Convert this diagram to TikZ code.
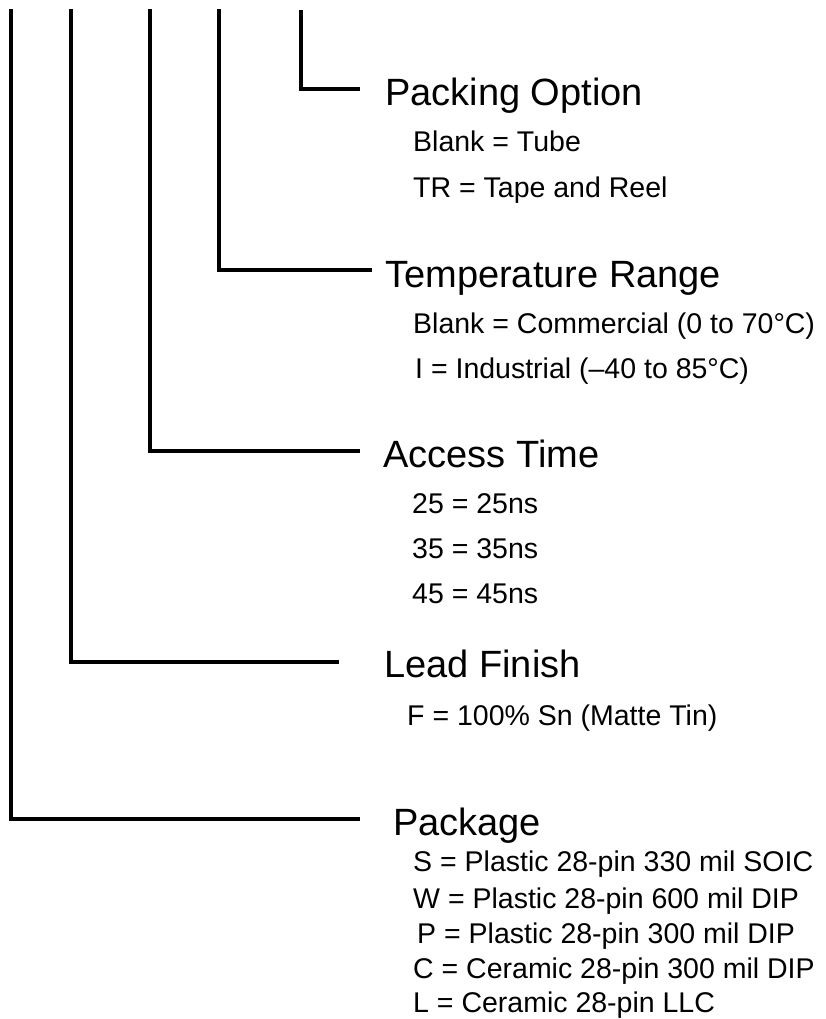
\documentclass[tikz,border=0pt]{standalone}
\usepackage{fontspec}
\setmainfont{Liberation Sans}
\usepackage{tikz}

\begin{document}
\begin{tikzpicture}[x=1pt,y=-1pt,
    lead/.style={black,line width=3.3pt},
    grouphead/.style={anchor=base west,inner sep=0pt,font=\fontsize{38}{40}\selectfont},
    choice/.style={anchor=base west,inner sep=0pt,font=\fontsize{28.5}{30}\selectfont}]
            \useasboundingbox (0,0) rectangle (825,1019);

            \coordinate (packtop) at (301,10);
            \coordinate (packend) at (360,89);
            \coordinate (temptop) at (219,9);
            \coordinate (tempend) at (372,270);
            \coordinate (acctop) at (150,9);
            \coordinate (accend) at (360,451);
            \coordinate (leadtop) at (71,9);
            \coordinate (leadend) at (339,662);
            \coordinate (pkgtop) at (11,9);
            \coordinate (pkgend) at (360,819);

            \draw[lead] (packtop) |- (packend);
            \draw[lead] (temptop) |- (tempend);
            \draw[lead] (acctop) |- (accend);
            \draw[lead] (leadtop) |- (leadend);
            \draw[lead] (pkgtop) |- (pkgend);

            \node[grouphead] (packing) at (385,106) {Packing Option};
            \node[choice] (packblank) at (413,152) {Blank = Tube};
            \node[choice] (packtr) at (413,197) {TR = Tape and Reel};

            \node[grouphead] (temprange) at (385,287) {Temperature Range};
            \node[choice] (tempblank) at (413,333) {Blank = Commercial (0 to 70°C)};
            \node[choice] (tempind) at (415,378) {I = Industrial (–40 to 85°C)};

            \node[grouphead] (access) at (383,467) {Access Time};
            \node[choice] (acc25) at (412,513) {25 = 25ns};
            \node[choice] (acc35) at (412,558) {35 = 35ns};
            \node[choice] (acc45) at (412,603) {45 = 45ns};

            \node[grouphead] (finish) at (384,677) {Lead Finish};
            \node[choice] (finishf) at (407,725) {F = 100\% Sn (Matte Tin)};

            \node[grouphead] (package) at (393,835) {Package};
            \node[choice] (pkgs) at (413,871) {S = Plastic 28-pin 330 mil SOIC};
            \node[choice] (pkgw) at (413,908) {W = Plastic 28-pin 600 mil DIP};
            \node[choice] (pkgp) at (417,943) {P = Plastic 28-pin 300 mil DIP};
            \node[choice] (pkgc) at (413,978) {C = Ceramic 28-pin 300 mil DIP};
            \node[choice] (pkgl) at (413,1012) {L = Ceramic 28-pin LLC};
\end{tikzpicture}
\end{document}
